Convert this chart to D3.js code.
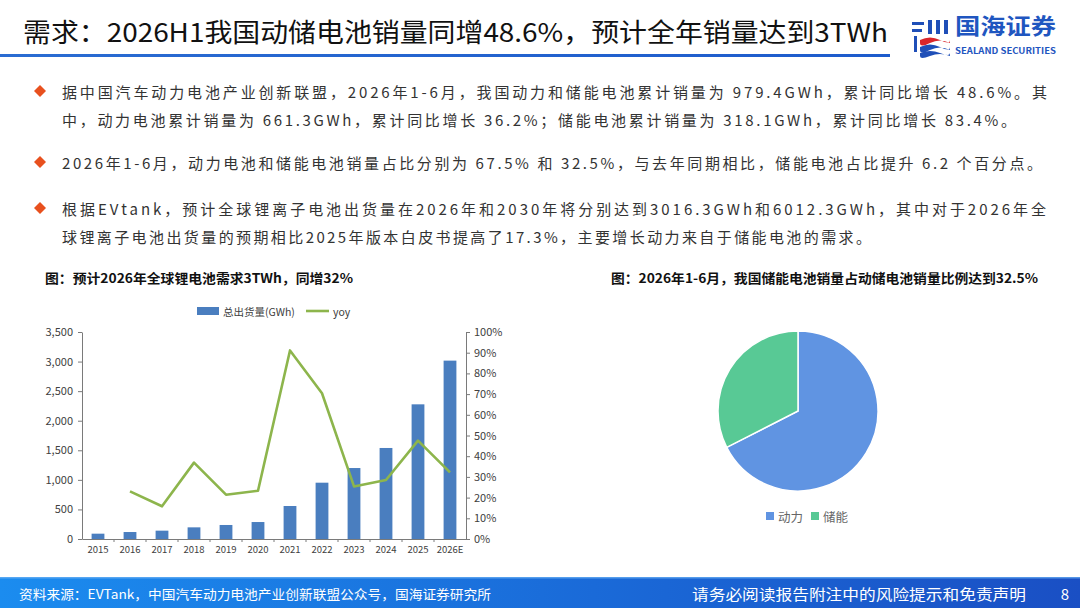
<html>
<head>
<meta charset="utf-8">
<title>需求：2026H1我国动储电池销量同增48.6%</title>
<style>
  body { margin: 0; background: #fff; }
  text { font-family: "Noto Sans CJK SC", "Noto Sans", sans-serif; }
</style>
</head>
<body>
<script src="https://cdn.jsdelivr.net/npm/d3@7"></script>
<script>
// ---- data ----
var years = ['2015','2016','2017','2018','2019','2020','2021','2022','2023','2024','2025','2026E'];
var shipments = [90, 118, 141, 197, 237, 287, 558, 952, 1200, 1539, 2277, 3016];   // GWh
var yoy = [null, 23.0, 15.8, 36.9, 21.4, 23.3, 91.1, 70.4, 25.4, 28.5, 47.5, 32.2]; // %
var leftTicks = [0, 500, 1000, 1500, 2000, 2500, 3000, 3500];
var rightTicks = [0, 10, 20, 30, 40, 50, 60, 70, 80, 90, 100];
var pieLabels = ['动力', '储能'];
var pieValues = [67.5, 32.5];

var title = '需求：2026H1我国动储电池销量同增48.6%，预计全年销量达到3TWh';
var bullets = [
  ['据中国汽车动力电池产业创新联盟，2026年1-6月，我国动力和储能电池累计销量为 979.4GWh，累计同比增长 48.6%。其',
   '中，动力电池累计销量为 661.3GWh，累计同比增长 36.2%；储能电池累计销量为 318.1GWh，累计同比增长 83.4%。'],
  ['2026年1-6月，动力电池和储能电池销量占比分别为 67.5% 和 32.5%，与去年同期相比，储能电池占比提升 6.2 个百分点。'],
  ['根据EVtank，预计全球锂离子电池出货量在2026年和2030年将分别达到3016.3GWh和6012.3GWh，其中对于2026年全',
   '球锂离子电池出货量的预期相比2025年版本白皮书提高了17.3%，主要增长动力来自于储能电池的需求。']
];

var width = 1080, height = 608;
var svg = d3.select('body').append('svg')
    .attr('width', width)
    .attr('height', height);

var defs = svg.append('defs');
var fg = defs.append('linearGradient').attr('id', 'footGrad')
    .attr('x1', '0%').attr('x2', '100%').attr('y1', '0%').attr('y2', '0%');
fg.append('stop').attr('offset', '0%').attr('stop-color', '#1b8cef');
fg.append('stop').attr('offset', '55%').attr('stop-color', '#1a6ad8');
fg.append('stop').attr('offset', '100%').attr('stop-color', '#1a4fc4');
var lg = defs.append('linearGradient').attr('id', 'lineGrad')
    .attr('x1', '0%').attr('x2', '100%').attr('y1', '0%').attr('y2', '0%');
lg.append('stop').attr('offset', '0%').attr('stop-color', '#2a6cd2');
lg.append('stop').attr('offset', '100%').attr('stop-color', '#1d5bcc');

// ---- header ----
svg.append('text')
    .attr('x', 23).attr('y', 30)
    .attr('dominant-baseline', 'central')
    .attr('font-family', '"Liberation Sans", "Noto Sans CJK SC", sans-serif')
    .attr('font-size', 26)
    .attr('font-weight', 'normal')
    .attr('fill', '#111')
    .attr('textLength', 865)
    .attr('lengthAdjust', 'spacingAndGlyphs')
    .text(title);
svg.append('rect')
    .attr('x', 0).attr('y', 54)
    .attr('width', 890).attr('height', 3)
    .attr('fill', 'url(#lineGrad)');

// logo
var logo = svg.append('g').attr('transform', 'translate(910,18)');
logo.append('path').attr('d', 'M2,4 h12 v3 h-12 z M2,11 h10 v3 h-10 z M4,18 v16 h3 v-16 z').attr('fill', '#1f4fb8');
logo.append('path').attr('d', 'M18,2 h4 v14 h-4 z M26,2 h4 v14 h-4 z M34,2 h4 v14 h-4 z').attr('fill', '#1f4fb8');
logo.append('path').attr('d', 'M10,22 q10,-5 20,0 t10,0 v3 q-10,-5 -20,0 t-10,0 z').attr('fill', '#d9262b');
logo.append('path').attr('d', 'M10,29 q10,-5 20,0 t10,0 v3 q-10,-5 -20,0 t-10,0 z').attr('fill', '#1f4fb8');
logo.append('path').attr('d', 'M10,35 q10,-4 20,0 t10,0 v3 q-10,-4 -20,0 t-10,0 z').attr('fill', '#1f4fb8');
svg.append('text')
    .attr('x', 955).attr('y', 34)
    .attr('font-size', 22).attr('font-weight', 'bold')
    .attr('fill', '#1f56c0')
    .attr('textLength', 101).attr('lengthAdjust', 'spacingAndGlyphs')
    .text('国海证券');
svg.append('text')
    .attr('x', 955).attr('y', 54)
    .attr('font-size', 8.5).attr('font-weight', 'bold')
    .attr('fill', '#1f56c0')
    .attr('textLength', 101).attr('lengthAdjust', 'spacingAndGlyphs')
    .text('SEALAND SECURITIES');

// ---- bullet text ----
var lineY = [[91, 119], [162], [208, 236]];
var lineEnd = [[1047, 1016], [1042], [1046, 871]];
bullets.forEach(function (b, i) {
    svg.append('path')
        .attr('transform', 'translate(40,' + lineY[i][0] + ')')
        .attr('d', 'M0,-6 L6,0 L0,6 L-6,0 Z')
        .attr('fill', '#e8501e');
    b.forEach(function (line, j) {
        svg.append('text')
            .attr('x', 62).attr('y', lineY[i][j])
            .attr('dominant-baseline', 'central')
            .attr('font-size', 15)
            .attr('fill', '#333')
            .attr('textLength', lineEnd[i][j] - 62)
            .attr('lengthAdjust', 'spacing')
            .text(line);
    });
});

// ---- bar + line chart ----
svg.append('text')
    .attr('x', 45).attr('y', 277)
    .attr('dominant-baseline', 'central')
    .attr('font-size', 13).attr('font-weight', 'bold')
    .attr('fill', '#111')
    .attr('textLength', 308).attr('lengthAdjust', 'spacingAndGlyphs')
    .text('图：预计2026年全球锂电池需求3TWh，同增32%');

var plotL = 82, plotR = 466, plotT = 332, plotB = 539;
var x = d3.scaleBand().domain(years).range([plotL, plotR]).paddingInner(0.6).paddingOuter(0.3);
var yL = d3.scaleLinear().domain([0, 3500]).range([plotB, plotT]);
var yR = d3.scaleLinear().domain([0, 100]).range([plotB, plotT]);

var chart = svg.append('g');
chart.selectAll('rect.bar')
    .data(shipments)
    .enter()
    .append('rect')
    .attr('class', 'bar')
    .attr('x', function (d, i) { return x(years[i]); })
    .attr('y', function (d) { return yL(d); })
    .attr('width', x.bandwidth())
    .attr('height', function (d) { return plotB - yL(d); })
    .attr('fill', '#4a7ebf');

var line = d3.line()
    .defined(function (d) { return d != null; })
    .x(function (d, i) { return x(years[i]) + x.bandwidth() / 2; })
    .y(function (d) { return yR(d); });
chart.append('path')
    .datum(yoy)
    .attr('d', line)
    .attr('fill', 'none')
    .attr('stroke', '#8db54c')
    .attr('stroke-width', 2.6)
    .attr('stroke-linejoin', 'round');

var axisColor = '#7a7a7a';
var gL = svg.append('g').attr('transform', 'translate(' + plotL + ',0)')
    .call(d3.axisLeft(yL).tickValues(leftTicks).tickFormat(d3.format(',')).tickSizeInner(4).tickSizeOuter(0).tickPadding(5));
var gR = svg.append('g').attr('transform', 'translate(' + plotR + ',0)')
    .call(d3.axisRight(yR).tickValues(rightTicks).tickFormat(function (d) { return d + '%'; }).tickSizeInner(4).tickSizeOuter(0).tickPadding(4));
var gX = svg.append('g').attr('transform', 'translate(0,' + plotB + ')')
    .call(d3.axisBottom(x).tickSize(0).tickPadding(7));
// ticks between categories
var step = x.step();
gX.selectAll('line.sep')
    .data(years.slice(1))
    .enter()
    .append('line')
    .attr('class', 'sep')
    .attr('x1', function (d) { return x(d) - (step - x.bandwidth()) / 2; })
    .attr('x2', function (d) { return x(d) - (step - x.bandwidth()) / 2; })
    .attr('y1', 0).attr('y2', 3)
    .attr('stroke', axisColor);
[gL, gR, gX].forEach(function (g) {
    g.selectAll('path.domain').attr('stroke', axisColor);
    g.selectAll('.tick line').attr('stroke', axisColor);
    g.selectAll('text')
        .attr('fill', '#404040')
        .attr('font-family', '"Noto Sans CJK SC", sans-serif');
});
gL.selectAll('text').attr('font-size', 11);
gR.selectAll('text').attr('font-size', 11);
gX.selectAll('text').attr('font-size', 9.5);

// legend
var leg = svg.append('g').attr('transform', 'translate(197,311)');
leg.append('rect').attr('x', 0).attr('y', -4).attr('width', 22).attr('height', 8).attr('fill', '#4a7ebf');
leg.append('text').attr('x', 26).attr('y', 0).attr('dominant-baseline', 'central')
    .attr('font-size', 10.5).attr('fill', '#404040').text('总出货量(GWh)');
leg.append('line').attr('x1', 109).attr('x2', 132).attr('y1', 0).attr('y2', 0)
    .attr('stroke', '#8db54c').attr('stroke-width', 2.6);
leg.append('text').attr('x', 136).attr('y', 0).attr('dominant-baseline', 'central')
    .attr('font-size', 10.5).attr('fill', '#404040').text('yoy');

// ---- pie chart ----
svg.append('text')
    .attr('x', 611).attr('y', 277)
    .attr('dominant-baseline', 'central')
    .attr('font-size', 13).attr('font-weight', 'bold')
    .attr('fill', '#111')
    .attr('textLength', 427).attr('lengthAdjust', 'spacingAndGlyphs')
    .text('图：2026年1-6月，我国储能电池销量占动储电池销量比例达到32.5%');

var pieColor = d3.scaleOrdinal().domain(pieLabels).range(['#6094e2', '#58c995']);
var pie = d3.pie().sort(null).value(function (d) { return d; });
var arc = d3.arc().innerRadius(0).outerRadius(80);
var pg = svg.append('g').attr('transform', 'translate(798,411)');
pg.selectAll('path')
    .data(pie(pieValues))
    .enter()
    .append('path')
    .attr('d', arc)
    .attr('fill', function (d, i) { return pieColor(pieLabels[i]); })
    .attr('stroke', '#fff')
    .attr('stroke-width', 1.5);

var pl = svg.append('g').attr('transform', 'translate(766,516)');
pieLabels.forEach(function (lab, i) {
    var gx = i * 45;
    pl.append('rect').attr('x', gx).attr('y', -4).attr('width', 8).attr('height', 8).attr('fill', pieColor(lab));
    pl.append('text').attr('x', gx + 12).attr('y', 0).attr('dominant-baseline', 'central')
        .attr('font-size', 12.5).attr('fill', '#666').text(lab);
});

// ---- footer ----
svg.append('rect').attr('x', 0).attr('y', 577).attr('width', width).attr('height', 31).attr('fill', 'url(#footGrad)');
svg.append('rect').attr('x', 0).attr('y', 577).attr('width', width).attr('height', 1.5).attr('fill', '#6fb4f5').attr('opacity', 0.7);
svg.append('text')
    .attr('x', 19).attr('y', 593)
    .attr('dominant-baseline', 'central')
    .attr('font-size', 13).attr('fill', '#fff')
    .attr('textLength', 472).attr('lengthAdjust', 'spacingAndGlyphs')
    .text('资料来源：EVTank，中国汽车动力电池产业创新联盟公众号，国海证券研究所');
svg.append('text')
    .attr('x', 692).attr('y', 593)
    .attr('dominant-baseline', 'central')
    .attr('font-size', 15).attr('fill', '#fff')
    .attr('textLength', 334).attr('lengthAdjust', 'spacingAndGlyphs')
    .text('请务必阅读报告附注中的风险提示和免责声明');
svg.append('text')
    .attr('x', 1065).attr('y', 593)
    .attr('dominant-baseline', 'central')
    .attr('text-anchor', 'middle')
    .attr('font-size', 15).attr('fill', '#fff')
    .text('8');
</script>
</body>
</html>
